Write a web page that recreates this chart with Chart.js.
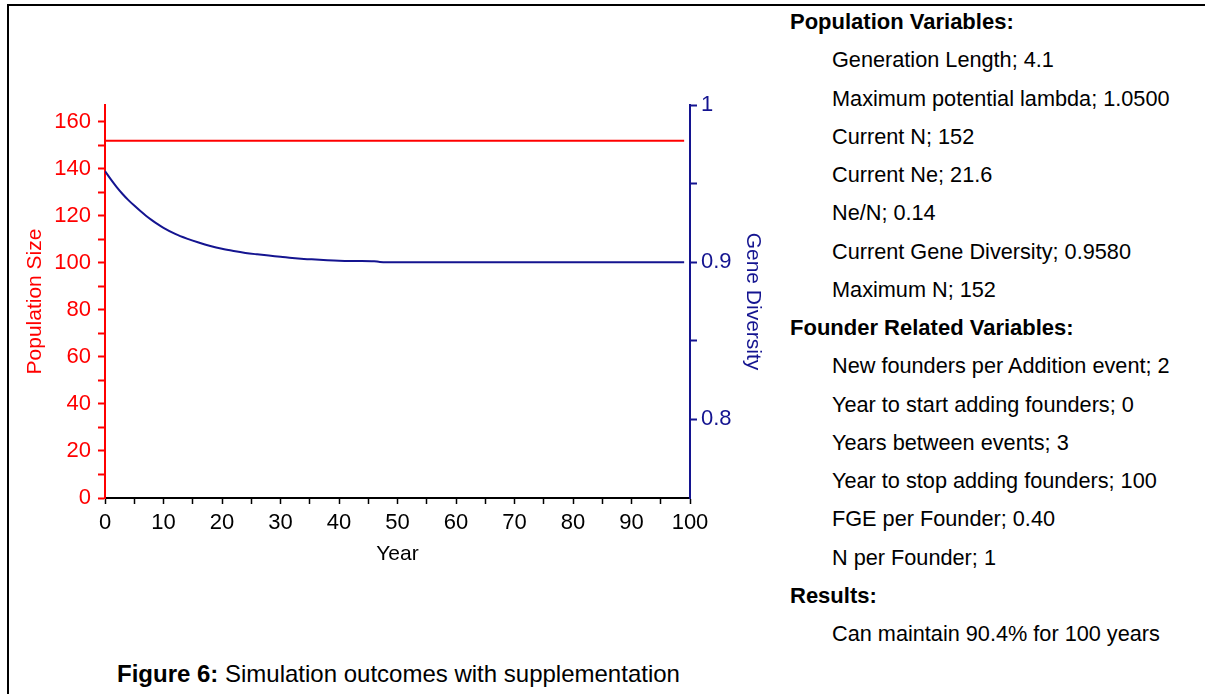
<!DOCTYPE html>
<html lang="en">
<head>
<meta charset="UTF-8">
<title>Simulation outcomes with supplementation</title>
<script src="https://cdn.jsdelivr.net/npm/chart.js"></script>
<style>
    body {
        margin: 0;
        width: 1205px;
        height: 694px;
        overflow: hidden;
        background: #fff;
        position: relative;
        font-family: "Liberation Sans", Arial, sans-serif;
        color: #000;
    }
    .frame {
        position: absolute;
        left: 7px;
        top: 4px;
        width: 1300px;
        height: 800px;
        border-left: 2px solid #000;
        border-top: 2px solid #000;
    }
    #chartBox {
        position: absolute;
        left: 0;
        top: 0;
        width: 780px;
        height: 570px;
    }
    .info {
        position: absolute;
        left: 790px;
        top: 3px;
        font-size: 21.7px;
        line-height: 38.25px;
        white-space: nowrap;
    }
    .info .h { font-weight: bold; font-size: 22px; }
    .info .i { padding-left: 42px; }
    .caption {
        position: absolute;
        left: 117px;
        top: 660px;
        font-size: 24px;
        line-height: 28px;
        white-space: nowrap;
    }
</style>
</head>
<body>
<div class="frame"></div>
<div id="chartBox"><canvas id="simChart" width="780" height="570"></canvas></div>

<div class="info">
    <div class="h">Population Variables:</div>
    <div class="i">Generation Length; 4.1</div>
    <div class="i">Maximum potential lambda; 1.0500</div>
    <div class="i">Current N; 152</div>
    <div class="i">Current Ne; 21.6</div>
    <div class="i">Ne/N; 0.14</div>
    <div class="i">Current Gene Diversity; 0.9580</div>
    <div class="i">Maximum N; 152</div>
    <div class="h">Founder Related Variables:</div>
    <div class="i">New founders per Addition event; 2</div>
    <div class="i">Year to start adding founders; 0</div>
    <div class="i">Years between events; 3</div>
    <div class="i">Year to stop adding founders; 100</div>
    <div class="i">FGE per Founder; 0.40</div>
    <div class="i">N per Founder; 1</div>
    <div class="h">Results:</div>
    <div class="i">Can maintain 90.4% for 100 years</div>
</div>

<div class="caption"><b>Figure 6:</b> Simulation outcomes with supplementation</div>

<script>
    // values
    const years = [0, 1, 2, 3, 4, 5, 6, 7, 8, 9, 10, 12, 14, 16, 18, 20, 22, 24, 26, 28, 30,
                   32, 34, 36, 38, 40, 43, 46, 47, 50, 60, 70, 80, 90, 99];
    const popSize = [152, 152, 152, 152, 152, 152, 152, 152, 152, 152, 152, 152, 152, 152, 152,
                     152, 152, 152, 152, 152, 152, 152, 152, 152, 152, 152, 152, 152, 152, 152,
                     152, 152, 152, 152, 152];
    const geneDiversity = [0.9580, 0.9527, 0.9478, 0.9434, 0.9395, 0.9360, 0.9327, 0.9296, 0.9268, 0.9242,
                           0.9219, 0.9180, 0.9150, 0.9125, 0.9103, 0.9085, 0.9071, 0.9059, 0.9050, 0.9042,
                           0.9035, 0.9027, 0.9021, 0.9017, 0.9013, 0.9010, 0.9008, 0.9006, 0.9002, 0.9000,
                           0.9000, 0.9000, 0.9000, 0.9000, 0.9000];

    const red = '#ff0000';
    const navy = '#141490';

    Chart.defaults.font.family = '"Liberation Sans", Arial, sans-serif';
    Chart.defaults.font.size = 21;

    const ctx = document.getElementById('simChart').getContext('2d');
    new Chart(ctx, {
        type: 'line',
        data: {
            datasets: [
                {
                    label: 'Population Size',
                    data: years.map((yr, i) => ({ x: yr, y: popSize[i] })),
                    borderColor: red,
                    borderWidth: 2,
                    pointRadius: 0,
                    yAxisID: 'y'
                },
                {
                    label: 'Gene Diversity',
                    data: years.map((yr, i) => ({ x: yr, y: geneDiversity[i] })),
                    borderColor: navy,
                    borderWidth: 2,
                    pointRadius: 0,
                    cubicInterpolationMode: 'monotone',
                    yAxisID: 'y1'
                }
            ]
        },
        options: {
            responsive: false,
            animation: false,
            layout: { padding: { top: 105, left: 0, right: 0, bottom: 0 } },
            plugins: {
                legend: { display: false },
                tooltip: { enabled: false }
            },
            scales: {
                x: {
                    type: 'linear',
                    min: 0,
                    max: 100,
                    afterFit: s => { s.height = 72; },
                    border: { color: '#000', width: 2 },
                    grid: { drawOnChartArea: false, tickLength: 6, tickWidth: 1.5, tickColor: '#000' },
                    ticks: {
                        stepSize: 5,
                        autoSkip: false,
                        maxRotation: 0,
                        padding: 6,
                        color: '#000',
                        font: { size: 22 },
                        callback: v => (v % 10 === 0 ? v : '')
                    },
                    title: { display: true, text: 'Year', color: '#000', padding: { top: 0, bottom: 3 } }
                },
                y: {
                    position: 'left',
                    min: 0,
                    max: 167.2,
                    afterFit: s => { s.width = 105; },
                    border: { color: red, width: 2 },
                    grid: { drawOnChartArea: false, tickLength: 7, tickWidth: 2, tickColor: red },
                    ticks: {
                        stepSize: 10,
                        includeBounds: false,
                        autoSkip: false,
                        padding: 7,
                        color: red,
                        font: { size: 22 },
                        callback: v => (v % 20 === 0 ? v : '')
                    },
                    title: { display: true, text: 'Population Size', color: red, padding: { top: 23, bottom: 0 } }
                },
                y1: {
                    position: 'right',
                    min: 0.75,
                    max: 1,
                    afterFit: s => { s.width = 90; },
                    border: { color: navy, width: 2 },
                    grid: {
                        drawOnChartArea: false,
                        tickLength: 7,
                        tickWidth: 2,
                        tickColor: c => (c.tick && c.tick.value < 0.76 ? 'rgba(0,0,0,0)' : navy)
                    },
                    ticks: {
                        stepSize: 0.05,
                        autoSkip: false,
                        padding: 4,
                        color: navy,
                        font: { size: 22 },
                        callback: v => {
                            const t = Math.round(v * 100);
                            return t % 10 === 0 ? String(t / 100) : '';
                        }
                    },
                    title: { display: true, text: 'Gene Diversity', color: navy, padding: { top: 15, bottom: 0 } }
                }
            }
        }
    });
</script>
</body>
</html>
